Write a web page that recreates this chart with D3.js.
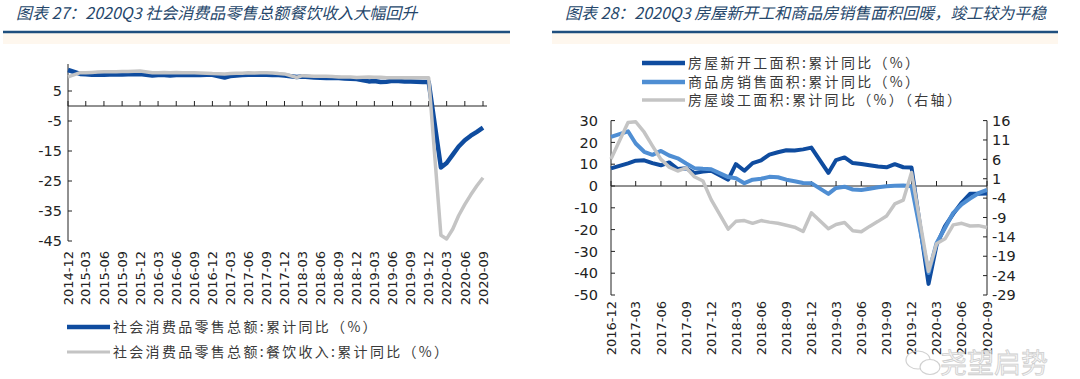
<!DOCTYPE html>
<html><head><meta charset="utf-8">
<script src="https://cdn.jsdelivr.net/npm/d3@7"></script>
<style>body{margin:0;background:#fff}</style>
</head><body>
<svg id="c" width="1080" height="379" xmlns="http://www.w3.org/2000/svg"></svg>
<script>
// ---------- Left chart data ----------
const retailDates = [
 "2014-12",
 "2015-02","2015-03","2015-04","2015-05","2015-06","2015-07","2015-08","2015-09","2015-10","2015-11","2015-12",
 "2016-02","2016-03","2016-04","2016-05","2016-06","2016-07","2016-08","2016-09","2016-10","2016-11","2016-12",
 "2017-02","2017-03","2017-04","2017-05","2017-06","2017-07","2017-08","2017-09","2017-10","2017-11","2017-12",
 "2018-02","2018-03","2018-04","2018-05","2018-06","2018-07","2018-08","2018-09","2018-10","2018-11","2018-12",
 "2019-02","2019-03","2019-04","2019-05","2019-06","2019-07","2019-08","2019-09","2019-10","2019-11","2019-12",
 "2020-02","2020-03","2020-04","2020-05","2020-06","2020-07","2020-08","2020-09"];
const retailTotal = [
 12.0,
 10.7,10.6,10.4,10.4,10.4,10.5,10.5,10.5,10.6,10.6,10.7,
 10.2,10.3,10.3,10.2,10.3,10.3,10.3,10.4,10.3,10.4,10.4,
 9.5,10.0,10.2,10.3,10.4,10.4,10.4,10.4,10.3,10.3,10.2,
 9.7,9.8,9.7,9.5,9.4,9.3,9.3,9.3,9.2,9.1,9.0,
 8.2,8.3,8.0,8.1,8.4,8.3,8.2,8.2,8.1,8.0,8.0,
 -20.5,-19.0,-16.2,-13.5,-11.4,-9.9,-8.6,-7.2];
const retailCatering = [
 9.7,
 11.1,11.1,11.2,11.3,11.4,11.4,11.4,11.5,11.5,11.6,11.7,
 11.1,11.1,11.2,11.1,11.2,11.1,11.1,11.1,11.0,10.9,10.8,
 10.7,10.8,10.9,10.9,11.1,11.0,11.1,11.1,11.0,10.8,10.7,
 9.5,10.1,10.0,9.9,9.9,9.9,9.8,9.7,9.7,9.7,9.5,
 9.7,9.6,9.6,9.4,9.4,9.4,9.4,9.4,9.4,9.4,9.4,
 -43.1,-44.3,-41.0,-36.5,-32.8,-29.6,-26.6,-23.9];
const leftTickLabels = ["2014-12","2015-03","2015-06","2015-09","2015-12","2016-03","2016-06","2016-09","2016-12",
 "2017-03","2017-06","2017-09","2017-12","2018-03","2018-06","2018-09","2018-12","2019-03","2019-06","2019-09",
 "2019-12","2020-03","2020-06","2020-09"];
const leftYTicks = [5,-5,-15,-25,-35,-45];
const leftLegend = ["社会消费品零售总额:累计同比（%）","社会消费品零售总额:餐饮收入:累计同比（%）"];
const leftTitle = "图表 27：2020Q3 社会消费品零售总额餐饮收入大幅回升";

// ---------- Right chart data ----------
const houseDates = [
 "2016-12",
 "2017-02","2017-03","2017-04","2017-05","2017-06","2017-07","2017-08","2017-09","2017-10","2017-11","2017-12",
 "2018-02","2018-03","2018-04","2018-05","2018-06","2018-07","2018-08","2018-09","2018-10","2018-11","2018-12",
 "2019-02","2019-03","2019-04","2019-05","2019-06","2019-07","2019-08","2019-09","2019-10","2019-11","2019-12",
 "2020-02","2020-03","2020-04","2020-05","2020-06","2020-07","2020-08","2020-09"];
const newStarts = [
 8.1,
 10.4,11.6,11.8,10.5,9.5,10.8,7.8,8.1,6.0,6.6,7.0,
 2.9,10.0,7.0,10.5,11.8,14.4,15.5,16.4,16.3,16.8,17.6,
 6.0,11.9,13.1,10.5,10.1,9.5,8.9,8.6,10.0,8.6,8.5,
 -44.9,-27.2,-18.4,-12.8,-7.6,-3.6,-3.6,-3.4];
const salesArea = [
 22.5,
 25.1,19.5,15.7,14.3,16.1,14.0,12.7,10.3,8.2,7.9,7.7,
 4.1,3.6,1.3,2.9,3.3,4.2,4.0,2.9,2.2,1.4,1.3,
 -3.6,-0.9,-0.3,-1.6,-1.8,-1.3,-0.6,-0.1,0.1,0.2,-0.1,
 -39.9,-26.3,-19.3,-12.3,-8.4,-5.8,-3.3,-1.8];
const completions = [
 6.1,
 15.5,15.7,13.0,9.5,6.0,4.0,3.0,3.8,1.5,0.4,-4.4,
 -12.0,-10.0,-9.8,-10.5,-9.8,-10.2,-10.5,-11.0,-11.5,-12.6,-7.8,
 -11.9,-10.8,-10.3,-12.4,-12.7,-11.3,-10.0,-8.6,-5.5,-4.5,2.6,
 -22.9,-15.8,-14.5,-10.9,-10.5,-11.2,-11.1,-11.6];
const rightTickLabels = ["2016-12","2017-03","2017-06","2017-09","2017-12","2018-03","2018-06","2018-09","2018-12",
 "2019-03","2019-06","2019-09","2019-12","2020-03","2020-06","2020-09"];
const rightYTicks = [30,20,10,0,-10,-20,-30,-40,-50];
const rightY2Ticks = [16,11,6,1,-4,-9,-14,-19,-24,-29];
const rightLegend = ["房屋新开工面积:累计同比（%）","商品房销售面积:累计同比（%）","房屋竣工面积:累计同比（%）（右轴）"];
const rightTitle = "图表 28：2020Q3 房屋新开工和商品房销售面积回暖，竣工较为平稳";

// ---------- styles ----------
const C_DARK = "#0f4c9f", C_MID = "#4f8ed3", C_GRAY = "#c4c4c4";
const TITLE_COLOR = "#26476b";
const AXIS_FONT = "'DejaVu Sans', Verdana, sans-serif";
const CJK_FONT = "'Noto Sans CJK SC', 'Noto Sans', sans-serif";

const parse = d3.timeParse("%Y-%m");
const svg = d3.select("#c");

function header(x1, x2, tx, title) {
  svg.append("rect").attr("x", x1).attr("y", 33).attr("width", x2 - x1).attr("height", 11).attr("fill", "#fef7ee");
  svg.append("line").attr("x1", x1).attr("x2", x2).attr("y1", 32).attr("y2", 32)
    .attr("stroke", "#1f4f7e").attr("stroke-width", 2.5);
  svg.append("text").attr("x", tx).attr("y", 19).attr("font-family", CJK_FONT)
    .attr("font-size", 16).attr("font-style", "italic").attr("fill", TITLE_COLOR).text(title);
}
header(3, 510, 16, leftTitle);
header(552, 1058, 565, rightTitle);

function xAxis(g, x, y0, tickLabels, x1, labelTop) {
  g.append("line").attr("x1", x.range()[0]).attr("x2", x1).attr("y1", y0).attr("y2", y0)
    .attr("stroke", "#222").attr("stroke-width", 1);
  tickLabels.forEach(t => {
    const px = x(parse(t));
    g.append("line").attr("x1", px).attr("x2", px).attr("y1", y0).attr("y2", y0 - 5)
      .attr("stroke", "#222").attr("stroke-width", 1);
    g.append("text").attr("transform", `translate(${px},${labelTop}) rotate(-90)`)
      .attr("text-anchor", "end").attr("dy", "0.36em")
      .attr("font-family", AXIS_FONT).attr("font-size", 13).attr("fill", "#222").text(t);
  });
}
function yAxis(g, y, xPos, ticks, side, labelGap) {
  const [b, t] = y.range();
  g.append("line").attr("x1", xPos).attr("x2", xPos).attr("y1", t).attr("y2", b)
    .attr("stroke", "#222").attr("stroke-width", 1);
  ticks.forEach(v => {
    const py = y(v);
    g.append("line").attr("x1", xPos).attr("x2", xPos + (side === "left" ? 4 : -4))
      .attr("y1", py).attr("y2", py).attr("stroke", "#222");
    g.append("text").attr("x", side === "left" ? xPos - labelGap : xPos + labelGap).attr("y", py)
      .attr("dy", "0.36em").attr("text-anchor", side === "left" ? "end" : "start")
      .attr("font-family", AXIS_FONT).attr("font-size", 14.5).attr("fill", "#222").text(v);
  });
}
function legend(g, x, y, color, width, label) {
  g.append("line").attr("x1", x).attr("x2", x + 43).attr("y1", y).attr("y2", y)
    .attr("stroke", color).attr("stroke-width", width);
  g.append("text").attr("x", x + 46).attr("y", y).attr("dy", "0.36em")
    .attr("font-family", CJK_FONT).attr("font-size", 14).attr("letter-spacing", "2.3px")
    .attr("fill", "#3a3a3a").text(label);
}

// ---------- Left chart ----------
{
  const g = svg.append("g");
  const x = d3.scaleTime().domain([parse("2014-12"), parse("2020-09")]).range([68, 483]);
  const y = d3.scaleLinear().domain([-45, 14]).range([241, 64]);
  yAxis(g, y, 68, leftYTicks, "left", 6);
  xAxis(g, x, y(0), leftTickLabels, 487, 251);
  const line = vals => d3.line().x((d, i) => x(parse(retailDates[i]))).y(d => y(d))(vals);
  g.append("path").attr("d", line(retailTotal)).attr("fill", "none").attr("stroke", C_DARK)
    .attr("stroke-width", 4.5).attr("stroke-linejoin", "round");
  g.append("path").attr("d", line(retailCatering)).attr("fill", "none").attr("stroke", C_GRAY)
    .attr("stroke-width", 3.5).attr("stroke-linejoin", "round");
  legend(g, 67, 327, C_DARK, 4.5, leftLegend[0]);
  legend(g, 67, 352, C_GRAY, 3, leftLegend[1]);
}

// ---------- Right chart ----------
{
  const g = svg.append("g");
  const x = d3.scaleTime().domain([parse("2016-12"), parse("2020-09")]).range([611, 987]);
  const y = d3.scaleLinear().domain([-50, 30]).range([295, 120.6]);
  const y2 = d3.scaleLinear().domain([-29, 16]).range([295, 120.6]);
  yAxis(g, y, 611, rightYTicks, "left", 13);
  yAxis(g, y2, 987, rightY2Ticks, "right", 5);
  xAxis(g, x, y(0), rightTickLabels, 987, 301);
  const line = (vals, sc) => d3.line().x((d, i) => x(parse(houseDates[i]))).y(d => sc(d))(vals);
  g.append("path").attr("d", line(newStarts, y)).attr("fill", "none").attr("stroke", C_DARK)
    .attr("stroke-width", 4).attr("stroke-linejoin", "round");
  g.append("path").attr("d", line(salesArea, y)).attr("fill", "none").attr("stroke", C_MID)
    .attr("stroke-width", 4).attr("stroke-linejoin", "round");
  g.append("path").attr("d", line(completions, y2)).attr("fill", "none").attr("stroke", C_GRAY)
    .attr("stroke-width", 3.5).attr("stroke-linejoin", "round");
  legend(g, 642, 63, C_DARK, 4.5, rightLegend[0]);
  legend(g, 642, 82, C_MID, 4.5, rightLegend[1]);
  legend(g, 642, 100, C_GRAY, 3.5, rightLegend[2]);
}

// ---------- watermark ----------
{
  const g = svg.append("g").attr("opacity", 0.85);
  g.append("ellipse").attr("cx", 918).attr("cy", 360).attr("rx", 12).attr("ry", 9)
    .attr("fill", "none").attr("stroke", "#c9c9c9").attr("stroke-width", 1.2);
  g.append("ellipse").attr("cx", 930).attr("cy", 367).attr("rx", 10).attr("ry", 7.5)
    .attr("fill", "#fff").attr("stroke", "#c9c9c9").attr("stroke-width", 1.2);
  g.append("text").attr("x", 940).attr("y", 373).attr("font-family", CJK_FONT).attr("font-size", 27)
    .attr("fill", "#f6f6f6").attr("stroke", "#c6c6c6").attr("stroke-width", 0.8).text("尧望启势");
}
</script>
</body></html>
